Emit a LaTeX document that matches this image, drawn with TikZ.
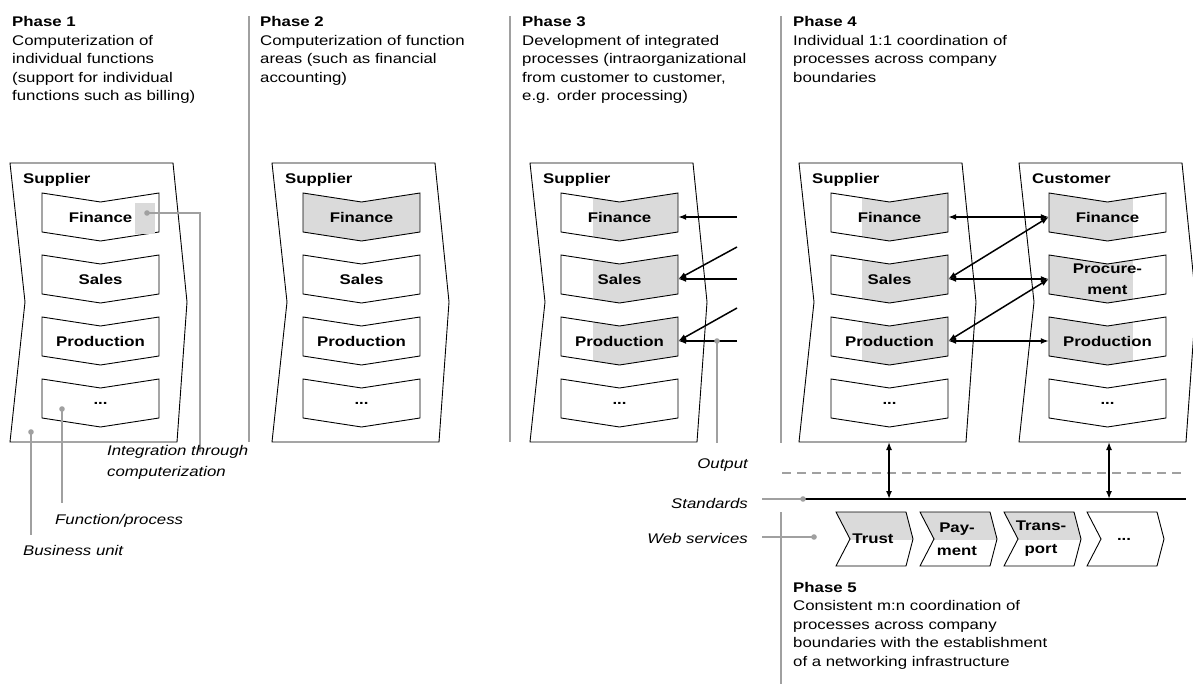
\documentclass[tikz,border=0pt]{standalone}
\usepackage{fontspec}
\setmainfont{Liberation Sans}[FakeStretch=1.2]
\usetikzlibrary{arrows.meta}

\definecolor{boxgrey}{RGB}{218,218,218}
\definecolor{leadgrey}{RGB}{160,160,160}

\tikzset{
  unitline/.style={line width=0.9pt},
  boxline/.style={line width=0.9pt},
  sepline/.style={leadgrey,line width=1.5pt},
  leader/.style={leadgrey,line width=1.6pt},
  flow/.style={line width=1.5pt,-{Latex[length=8pt,width=6pt]}},
  biflow/.style={line width=1.5pt,{Latex[length=8pt,width=6pt]}-{Latex[length=8pt,width=6pt]}},
  outdash/.style={leadgrey,line width=1.6pt,dash pattern=on 9pt off 6pt},
  phasetext/.style={anchor=base west,align=left,text width=320pt,inner sep=0pt,font=\fontsize{14}{18.5}\selectfont},
  unitlabel/.style={anchor=base west,inner sep=0pt,font=\fontsize{14}{18}\selectfont\bfseries},
  boxtext/.style={font=\fontsize{14}{21}\selectfont\bfseries,align=center,inner sep=0pt,minimum width=117pt,minimum height=39pt},
  servtext/.style={font=\fontsize{14}{23}\selectfont\bfseries,align=center,inner sep=0pt},
  leadtext/.style={inner sep=0pt,align=left,font=\fontsize{14}{21}\selectfont\itshape},
}

\newcommand{\dotslabel}{...}

% business unit frame: #1 left x, #2 name, #3 label
\newcommand{\unitframe}[3]{%
  \draw[unitline] (#1,163) -- ++(163,0) -- ++(14,139) -- ++(-10,140) -- ++(-167,0) -- ++(15,-140) -- cycle;
  \node[unitlabel] (#2) at ({#1+13},184) {#3};
  \coordinate (#2-b) at ({#1+90},442);
}

% function box: #1 left x, #2 top y, #3 name, #4 label, #5/#6 grey part
\newcommand{\procbox}[6]{%
  \ifnum#6>#5
  \begin{scope}
    \clip (#1,#2) -- ++(58.5,9) -- ++(58.5,-9) -- ++(0,39) -- ++(-58.5,9) -- ++(-58.5,-9) -- cycle;
    \fill[boxgrey] ({#1+#5},#2) rectangle ({#1+#6},{#2+50});
  \end{scope}
  \fi
  \draw[boxline] (#1,#2) -- ++(58.5,9) -- ++(58.5,-9) -- ++(0,39) -- ++(-58.5,9) -- ++(-58.5,-9) -- cycle;
  \node[boxtext] (#3) at ({#1+58.5},{#2+24}) {#4};
}

% web service box: #1 left x, #2 name, #3 label, #4 grey height
\newcommand{\servbox}[4]{%
  \ifnum#4>0
  \begin{scope}
    \clip (#1,512) -- ++(70,0) -- ++(7,27) -- ++(-7,27) -- ++(-70,0) -- ++(14,-27) -- cycle;
    \fill[boxgrey] (#1,512) rectangle ({#1+80},{512+#4});
  \end{scope}
  \fi
  \draw[boxline] (#1,512) -- ++(70,0) -- ++(7,27) -- ++(-7,27) -- ++(-70,0) -- ++(14,-27) -- cycle;
  \node[servtext] (#2) at ({#1+37},539) {#3};
}

\begin{document}
\begin{tikzpicture}[x=1pt,y=-1pt]
\useasboundingbox (0,0) rectangle (1193,684);

% separators
\draw[sepline] (249,16) -- (249,442);
\draw[sepline] (510,16) -- (510,442);
\draw[sepline] (781,16) -- (781,443);
\draw[sepline] (781,512) -- (781,684);

% phase descriptions
\node[phasetext] (ph1) at (12,27) {\textbf{Phase 1}\\Computerization of\\individual functions\\(support for individual\\functions such as billing)};
\node[phasetext] (ph2) at (260,27) {\textbf{Phase 2}\\Computerization of function\\areas (such as financial\\accounting)};
\node[phasetext] (ph3) at (522,27) {\textbf{Phase 3}\\Development of integrated\\processes (intraorganizational\\from customer to customer,\\e.g. order processing)};
\node[phasetext] (ph4) at (793,27) {\textbf{Phase 4}\\Individual 1:1 coordination of\\processes across company\\boundaries};
\node[phasetext] (ph5) at (793,592) {\textbf{Phase 5}\\Consistent m:n coordination of\\processes across company\\boundaries with the establishment\\of a networking infrastructure};

% phase 1
\unitframe{10}{u1}{Supplier}
\foreach \t/\nm/\l in {193/fin/Finance,255/sal/Sales,317/prd/Production,379/etc/\dotslabel}
  {\procbox{42}{\t}{p1\nm}{\l}{0}{0}}
\fill[boxgrey] (135,203) rectangle (155,234);
\coordinate (intdot) at (147,213);
\coordinate (intend) at (200,452);
\coordinate (fndot) at (62,409);
\coordinate (fnend) at (62,503);
\coordinate (budot) at (31,432);
\coordinate (buend) at (31,535);
\draw[leader] (intdot) -| (intend);
\draw[leader] (fndot) -- (fnend);
\draw[leader] (budot) -- (buend);
\foreach \c in {intdot,fndot,budot} \fill[leadgrey] (\c) circle (2.8pt);
\node[leadtext,anchor=base west] (intlbl) at (107,476) {Integration through\\computerization};
\node[leadtext,anchor=base west] (fnlbl) at (55,524) {Function/process};
\node[leadtext,anchor=base west] (bulbl) at (23,555) {Business unit};

% phase 2
\unitframe{272}{u2}{Supplier}
\foreach \t/\nm/\l/\gb in {193/fin/Finance/117,255/sal/Sales/0,317/prd/Production/0,379/etc/\dotslabel/0}
  {\procbox{303}{\t}{p2\nm}{\l}{0}{\gb}}

% phase 3
\unitframe{530}{u3}{Supplier}
\foreach \t/\nm/\l/\gb in {193/fin/Finance/117,255/sal/Sales/117,317/prd/Production/117,379/etc/\dotslabel/32}
  {\procbox{561}{\t}{p3\nm}{\l}{32}{\gb}}
\coordinate (in3a) at (737,217);
\coordinate (in3b) at (737,247);
\coordinate (in3c) at (737,279);
\coordinate (in3d) at (737,308);
\coordinate (in3e) at (737,341);
\draw[flow] (in3a) -- (p3fin.east);
\draw[flow] (in3b) -- (p3sal.east);
\draw[flow] (in3c) -- (p3sal.east);
\draw[flow] (in3d) -- (p3prd.east);
\draw[flow] (in3e) -- (p3prd.east);
\coordinate (outdot) at (717,341);
\coordinate (outend) at (717,443);
\draw[leader] (outdot) -- (outend);
\fill[leadgrey] (outdot) circle (2.8pt);

% phase 4
\unitframe{799}{u4s}{Supplier}
\unitframe{1019}{u4c}{Customer}
\foreach \t/\nm/\l/\gb in {193/fin/Finance/117,255/sal/Sales/117,317/prd/Production/117,379/etc/\dotslabel/31}
  {\procbox{831}{\t}{s4\nm}{\l}{31}{\gb}}
\foreach \t/\nm/\l/\gb in {193/fin/Finance/84,255/pro/Procure-\\ment/84,317/prd/Production/84,379/etc/\dotslabel/0}
  {\procbox{1049}{\t}{c4\nm}{\l}{0}{\gb}}
\draw[biflow] (s4fin.east) -- (c4fin.west);
\draw[biflow] (s4sal.east) -- (c4fin.west);
\draw[biflow] (s4sal.east) -- (c4pro.west);
\draw[biflow] (s4prd.east) -- (c4pro.west);
\draw[biflow] (s4prd.east) -- (c4prd.west);

% phase 5: output, standards, web services
\coordinate (out-w) at (782,473);
\coordinate (out-e) at (1186,473);
\coordinate (std-w) at (803,499);
\coordinate (std-e) at (1186,499);
\coordinate (stdlead) at (762,499);
\coordinate (weblead) at (762,537);
\coordinate (webdot) at (814,537);
\draw[outdash] (out-w) -- (out-e);
\draw[line width=1.2pt] (std-w) -- (std-e);
\draw[leader] (stdlead) -- (std-w);
\draw[leader] (weblead) -- (webdot);
\fill[leadgrey] (std-w) circle (2.8pt);
\fill[leadgrey] (webdot) circle (2.8pt);
\draw[biflow] (u4s-b) -- (u4s-b |- std-w);
\draw[biflow] (u4c-b) -- (u4c-b |- std-w);
\node[leadtext,anchor=base east] (outlbl) at (748,468) {Output};
\node[leadtext,anchor=base east] (stdlbl) at (748,508) {Standards};
\node[leadtext,anchor=base east] (weblbl) at (748,543) {Web services};
\foreach \x/\nm/\l/\g in {836/trust/Trust/28,920/pay/Pay-\\ment/28,1004/trans/Trans-\\port/28,1087/more/\dotslabel/0}
  {\servbox{\x}{\nm}{\l}{\g}}
\end{tikzpicture}
\end{document}
